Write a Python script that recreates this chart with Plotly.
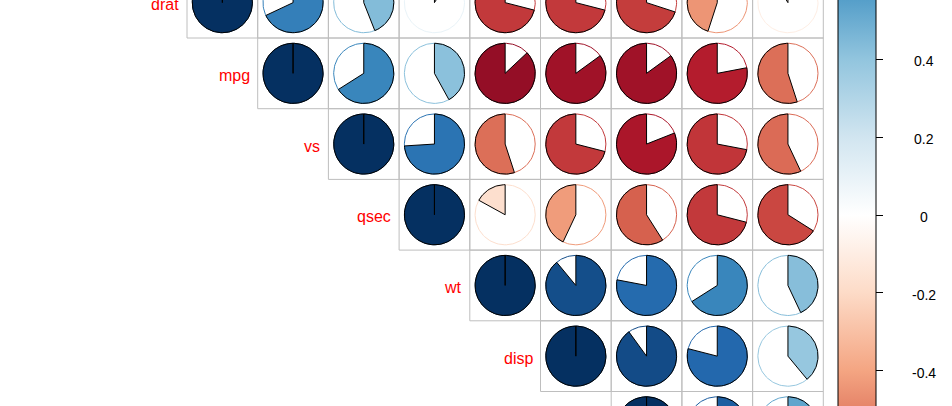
import numpy as np
import plotly.graph_objects as go

# ---------------- data ----------------
variables = ["gear", "am", "drat", "mpg", "vs", "qsec", "wt", "disp", "cyl", "hp", "carb"]

# upper-triangle correlation rows (from the diagonal to the right)
row_gear = [1.00, 0.79, 0.70, 0.48, 0.21, -0.21, -0.58, -0.56, -0.49, -0.13, 0.27]
row_am = [1.00, 0.71, 0.60, 0.17, -0.23, -0.69, -0.59, -0.52, -0.24, 0.06]
row_drat = [1.00, 0.68, 0.44, 0.09, -0.71, -0.71, -0.70, -0.45, -0.09]
row_mpg = [1.00, 0.66, 0.42, -0.87, -0.85, -0.85, -0.78, -0.55]
row_vs = [1.00, 0.74, -0.55, -0.71, -0.81, -0.72, -0.57]
row_qsec = [1.00, -0.17, -0.43, -0.59, -0.71, -0.66]
row_wt = [1.00, 0.89, 0.78, 0.66, 0.43]
row_disp = [1.00, 0.90, 0.79, 0.39]
row_cyl = [1.00, 0.83, 0.53]
row_hp = [1.00, 0.75]
row_carb = [1.00]

colorbar_tickvals = [-1.0, -0.8, -0.6, -0.4, -0.2, 0.0, 0.2, 0.4, 0.6, 0.8, 1.0]
colorbar_ticklabels = ["-1", "-0.8", "-0.6", "-0.4", "-0.2", "0", "0.2", "0.4", "0.6", "0.8", "1"]

palette = ["#67001F", "#B2182B", "#D6604D", "#F4A582", "#FDDBC7", "#FFFFFF",
           "#D1E5F0", "#92C5DE", "#4393C3", "#2166AC", "#053061"]

# ---------------- helpers ----------------
rows = [row_gear, row_am, row_drat, row_mpg, row_vs, row_qsec, row_wt,
        row_disp, row_cyl, row_hp, row_carb]


def hex2rgb(h):
    h = h.lstrip("#")
    return np.array([int(h[k:k + 2], 16) for k in (0, 2, 4)], dtype=float)


pal_rgb = [hex2rgb(c) for c in palette]
N_COL = 200
ramp = []
for t in np.linspace(0, 1, N_COL):
    pos = t * (len(palette) - 1)
    k = min(int(np.floor(pos)), len(palette) - 2)
    f = pos - k
    c = pal_rgb[k] * (1 - f) + pal_rgb[k + 1] * f
    ramp.append("rgb(%d,%d,%d)" % tuple(np.round(c)))


def value_color(r):
    idx = int(np.ceil((r + 1) / 2 * N_COL)) - 1
    idx = max(0, min(N_COL - 1, idx))
    return ramp[idx]


colorscale = [[k / (len(palette) - 1), c] for k, c in enumerate(palette)]

RADIUS = 0.425  # 0.85 * half cell

fig = go.Figure()

# grid of the displayed (upper) triangle
gx, gy = [], []
for i, row in enumerate(rows):
    for off in range(len(row)):
        j = i + off
        gx += [j - 0.5, j + 0.5, j + 0.5, j - 0.5, j - 0.5, None]
        gy += [i - 0.5, i - 0.5, i + 0.5, i + 0.5, i - 0.5, None]
fig.add_trace(go.Scatter(x=gx, y=gy, mode="lines",
                         line=dict(color="#BEBEBE", width=1),
                         hoverinfo="skip", showlegend=False))

for i, row in enumerate(rows):
    for off, r in enumerate(row):
        j = i + off
        col = value_color(r)
        # circle outline
        t = np.linspace(0, 2 * np.pi, 120)
        fig.add_trace(go.Scatter(x=j + RADIUS * np.cos(t), y=i - RADIUS * np.sin(t),
                                 mode="lines", line=dict(color=col, width=1),
                                 hoverinfo="skip", showlegend=False))
        # pie sector, from 12 o'clock, clockwise for positive values
        theta = r * 2 * np.pi
        npts = max(2, int(60 * abs(theta) / np.pi))
        k = np.linspace(np.pi / 2, np.pi / 2 - theta, npts)
        px = np.concatenate([[j], j + RADIUS * np.cos(k), [j]])
        py = np.concatenate([[i], i - RADIUS * np.sin(k), [i]])
        fig.add_trace(go.Scatter(x=px, y=py, mode="lines", fill="toself",
                                 fillcolor=col, line=dict(color="black", width=1),
                                 hoverinfo="skip", showlegend=False))

# colour legend (colorbar) ; dummy invisible markers on the legend axis y2
fig.add_trace(go.Scatter(
    x=[0] * len(colorbar_tickvals), y=colorbar_tickvals, yaxis="y2", mode="markers",
    marker=dict(size=1, opacity=0, color=colorbar_tickvals, colorscale=colorscale,
                cmin=-1, cmax=1, showscale=True,
                colorbar=dict(thickness=38, thicknessmode="pixels",
                              len=778, lenmode="pixels",
                              x=838 / 952, xanchor="left", xpad=0,
                              y=1 - 215 / 406, yanchor="middle", ypad=0,
                              outlinecolor="black", outlinewidth=1,
                              ticks="outside", ticklen=7, tickwidth=1, tickcolor="black",
                              tickvals=colorbar_tickvals, showticklabels=False)),
    hoverinfo="skip", showlegend=False))

# colour legend tick labels, centred, placed on the legend value axis y2
for v, lab in zip(colorbar_tickvals, colorbar_ticklabels):
    fig.add_annotation(x=924 / 952, xref="paper", y=v, yref="y2", text=lab,
                       showarrow=False, xanchor="center", yanchor="middle", yshift=-2,
                       font=dict(family="Liberation Sans", size=14, color="black"))

# row labels
for i, name in enumerate(variables):
    fig.add_annotation(x=i - 0.5, y=i, xref="x", yref="y", text=name,
                       showarrow=False, xanchor="right", yanchor="middle",
                       xshift=-6, yshift=-2,
                       font=dict(family="Liberation Sans", size=16, color="red"))

CELL = 70.7
x_lo = 1.5 - 187 / CELL
x_hi = x_lo + 952 / CELL
y_top = 1.5 + 32.7 / CELL
y_bot = y_top + 406 / CELL

# legend axis: -1 at 604 px, +1 at -174 px (figure pixels from the top)
leg_top = 1 - 2 * (0 + 174) / 778
leg_bot = 1 - 2 * (406 + 174) / 778

fig.update_layout(
    width=952, height=406,
    margin=dict(l=0, r=0, t=0, b=0, autoexpand=False),
    paper_bgcolor="white", plot_bgcolor="white", showlegend=False,
    xaxis=dict(range=[x_lo, x_hi], visible=False, fixedrange=True),
    yaxis=dict(range=[y_bot, y_top], visible=False, fixedrange=True),
    yaxis2=dict(range=[leg_bot, leg_top], overlaying="y", visible=False, fixedrange=True),
)

fig.write_html("out.html", config={"displayModeBar": False, "staticPlot": True},
               post_script="document.body.style.margin='0px';document.body.style.padding='0px';")
